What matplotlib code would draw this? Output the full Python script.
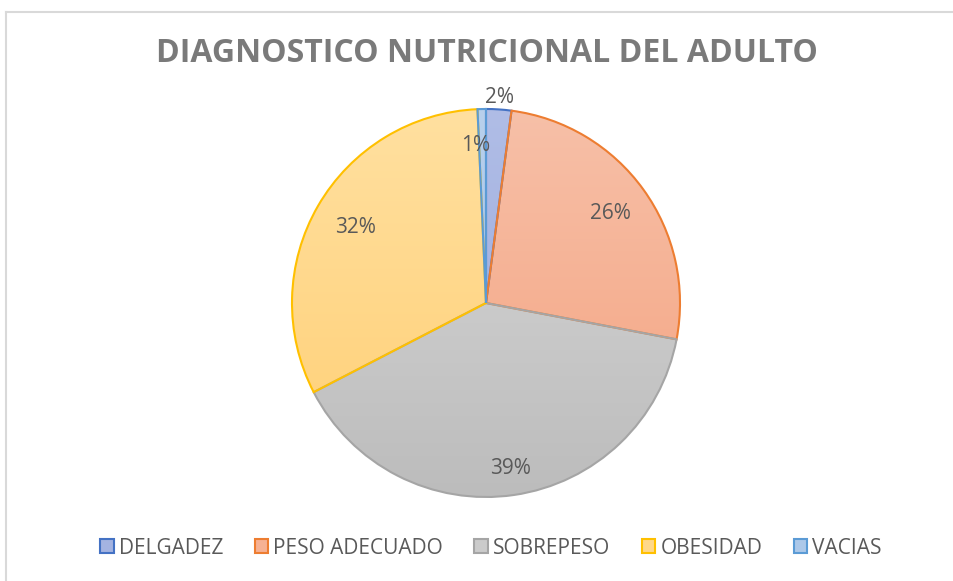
# pie chart - diagnostico nutricional del adulto

import matplotlib
matplotlib.use("Agg")
import matplotlib.pyplot as plt
import matplotlib.colors as mcolors
from matplotlib.patches import Patch
from matplotlib.lines import Line2D
import numpy as np

TITLE = "DIAGNOSTICO NUTRICIONAL DEL ADULTO"

categorias = ["DELGADEZ", "PESO ADECUADO", "SOBREPESO", "OBESIDAD", "VACIAS"]
porcentajes = [2.1, 25.9, 39.4, 31.9, 0.7]

# light (top) / dark (bottom) fill and edge for each slice
color_top = ["#b0bde6", "#f7c0a8", "#d9d9d9", "#ffe0a0", "#b8d0ec"]
color_bot = ["#98a8db", "#f4a27f", "#bcbcbc", "#ffcf74", "#a0c0e6"]
color_borde = ["#4472c4", "#ed7d31", "#a5a5a5", "#ffc000", "#5b9bd5"]

plt.rcParams["font.family"] = ["Open Sans", "DejaVu Sans"]

W, H = 954, 581
fig = plt.figure(figsize=(W / 100, H / 100), dpi=100)
ax = fig.add_axes([0, 0, 1, 1])

cx, cy, r = 486, H - 303, 194

wedges, _ = ax.pie(porcentajes, startangle=90, counterclock=False,
                   center=(cx, cy), radius=r,
                   wedgeprops=dict(linewidth=1.5))

for i, w in enumerate(wedges):
    w.set_facecolor("none")
    w.set_edgecolor(color_borde[i])
    w.set_zorder(3)
    c1 = np.array(mcolors.to_rgb(color_top[i]))
    c2 = np.array(mcolors.to_rgb(color_bot[i]))
    t = np.linspace(0, 1, 256)[:, None, None]
    grad = c1 * (1 - t) + c2 * t
    im = ax.imshow(grad, extent=[cx - r, cx + r, cy - r, cy + r],
                   origin="upper", aspect="auto", zorder=2)
    im.set_clip_path(w)

# percentage labels
dist = [1.06, 0.79, 0.86, 0.78, 0.81]
acum = 0
for i, v in enumerate(porcentajes):
    mid = (acum + v / 2) / 100.0 * 2 * np.pi
    acum += v
    x = cx + dist[i] * r * np.sin(mid)
    y = cy + dist[i] * r * np.cos(mid)
    if i == 4:
        x -= 7
    ax.text(x, y, "%.0f%%" % v, ha="center", va="center",
            fontsize=15, color="#595959", zorder=5)

ax.set_xlim(0, W)
ax.set_ylim(0, H)
ax.set_aspect("auto")
ax.axis("off")

# chart border (left and top visible)
ax.add_line(Line2D([6.5, 6.5], [0, H - 11.5], color="#d9d9d9", lw=1.5))
ax.add_line(Line2D([6.5, W], [H - 11.5, H - 11.5], color="#d9d9d9", lw=1.5))

fig.text(487 / W, 1 - 54 / H, TITLE, ha="center", va="center",
         fontsize=23, fontweight="bold", color="#7a7a7a")

handles = []
for i, c in enumerate(categorias):
    mid_col = (np.array(mcolors.to_rgb(color_top[i])) + np.array(mcolors.to_rgb(color_bot[i]))) / 2
    handles.append(Patch(facecolor=mid_col, edgecolor=color_borde[i], linewidth=1.5, label=c))

fig.legend(handles=handles, loc="center", bbox_to_anchor=(491 / W, 1 - 548 / H),
           ncol=5, frameon=False, fontsize=15, labelcolor="#595959",
           handlelength=0.65, handleheight=0.65, handletextpad=0.25,
           columnspacing=1.5)

fig.savefig("out.png", dpi=100)
